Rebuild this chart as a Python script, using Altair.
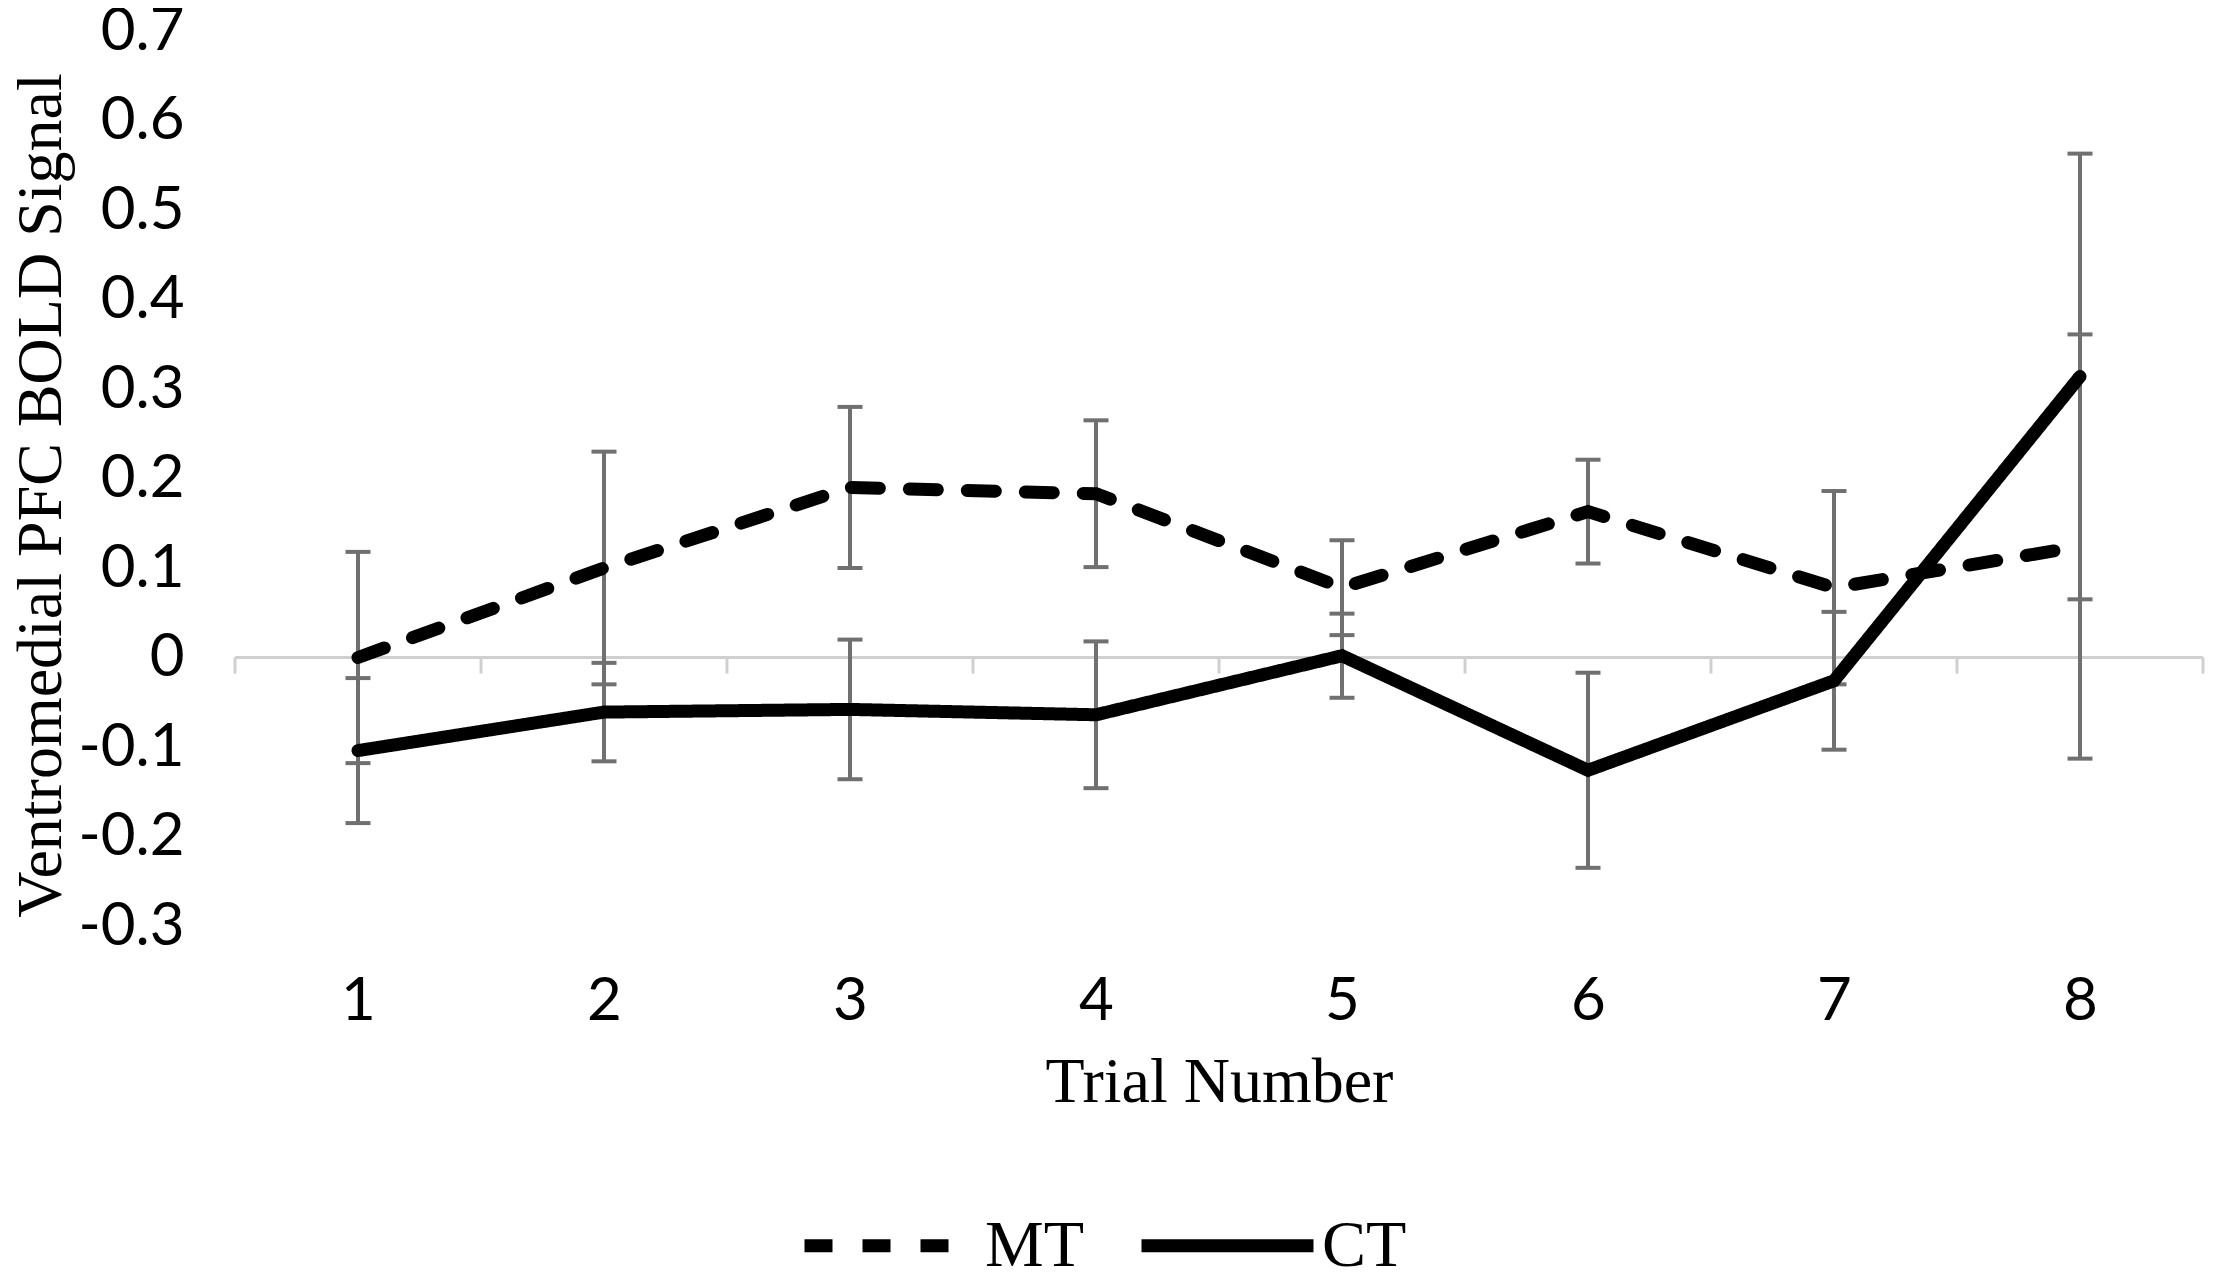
import altair as alt
import pandas as pd

# ---- data ----
trials = [1, 2, 3, 4, 5, 6, 7, 8]
series = ["MT", "CT"]
mt_mean = [0.0, 0.10, 0.19, 0.183, 0.078, 0.163, 0.078, 0.124]
mt_err = [0.118, 0.13, 0.09, 0.082, 0.053, 0.058, 0.108, 0.237]
ct_mean = [-0.104, -0.061, -0.058, -0.064, 0.002, -0.126, -0.026, 0.314]
ct_err = [0.081, 0.055, 0.078, 0.082, 0.047, 0.109, 0.077, 0.249]
y_ticks = [-0.3, -0.2, -0.1, 0.0, 0.1, 0.2, 0.3, 0.4, 0.5, 0.6, 0.7]

rows = []
for name, means, errs in [("MT", mt_mean, mt_err), ("CT", ct_mean, ct_err)]:
    for t, m, e in zip(trials, means, errs):
        rows.append({"trial": t, "series": name, "mean": m, "lo": m - e, "hi": m + e})
df = pd.DataFrame(rows)

boundaries = [t - 0.5 for t in trials] + [trials[-1] + 0.5]
bdf = pd.DataFrame({"b": boundaries, "y0": [0.0] * len(boundaries), "y1": [-0.018] * len(boundaries)})
zdf = pd.DataFrame({"x0": [boundaries[0]], "x1": [boundaries[-1]], "y": [0.0]})

x_scale = alt.Scale(domain=[boundaries[0], boundaries[-1]], nice=False, zero=False)
y_scale = alt.Scale(domain=[y_ticks[0], y_ticks[-1]], nice=False, zero=False)

x_axis = alt.Axis(
    values=trials, format="d", title="Trial Number", domain=False, ticks=False, grid=False,
    labelFont="Lato", labelFontSize=60, labelColor="black",
    labelBaseline="alphabetic", labelPadding=93,
    titleFont="Liberation Serif", titleFontSize=64, titleFontWeight="normal",
    titleColor="black", titleBaseline="alphabetic", titleY=175,
)
y_axis = alt.Axis(
    values=y_ticks, title="Ventromedial PFC BOLD Signal", domain=False, ticks=False, grid=False,
    labelFont="Lato", labelFontSize=60, labelColor="black", labelPadding=51,
    labelExpr="datum.value == 0 ? '0' : (datum.value < 0 ? '-' : '') + format(abs(datum.value), '.1f')",
    titleFont="Liberation Serif", titleFontSize=64, titleFontWeight="normal",
    titleColor="black", titleBaseline="alphabetic", titleAngle=270,
    titleX=-175, titleY=464, titleAlign="center",
)

zero_line = alt.Chart(zdf).mark_rule(color="#d0d0d0", strokeWidth=3).encode(
    x=alt.X("x0:Q", scale=x_scale, axis=x_axis),
    x2="x1:Q",
    y=alt.Y("y:Q", scale=y_scale, axis=y_axis),
)
cat_ticks = alt.Chart(bdf).mark_rule(color="#d0d0d0", strokeWidth=3).encode(
    x=alt.X("b:Q", scale=x_scale),
    y=alt.Y("y0:Q", scale=y_scale),
    y2="y1:Q",
)

err_color = "#707070"
err_rule = alt.Chart(df).mark_rule(color=err_color, strokeWidth=4).encode(
    x=alt.X("trial:Q", scale=x_scale),
    y=alt.Y("lo:Q", scale=y_scale),
    y2="hi:Q",
)
cap_lo = alt.Chart(df).mark_tick(color=err_color, orient="horizontal", size=25, thickness=4, opacity=1).encode(
    x=alt.X("trial:Q", scale=x_scale),
    y=alt.Y("lo:Q", scale=y_scale),
)
cap_hi = alt.Chart(df).mark_tick(color=err_color, orient="horizontal", size=25, thickness=4, opacity=1).encode(
    x=alt.X("trial:Q", scale=x_scale),
    y=alt.Y("hi:Q", scale=y_scale),
)

lines = alt.Chart(df).mark_line(color="black", strokeWidth=13, strokeCap="round").encode(
    x=alt.X("trial:Q", scale=x_scale),
    y=alt.Y("mean:Q", scale=y_scale),
    strokeDash=alt.StrokeDash(
        "series:N",
        scale=alt.Scale(domain=series, range=[[28, 30], [1, 0]]),
        legend=alt.Legend(
            orient="none", legendX=563, legendY=1122, direction="horizontal", title=None,
            symbolType="stroke", symbolSize=29584, symbolStrokeWidth=13,
            symbolStrokeColor="black",
            labelFont="Liberation Serif", labelFontSize=66, labelColor="black",
            labelOffset=2, columnPadding=31,
        ),
    ),
)

chart = alt.layer(zero_line, cat_ticks, err_rule, cap_lo, cap_hi, lines).properties(
    width=1968, height=895,
    autosize=alt.AutoSizeParams(type="none"),
    padding={"left": 227, "top": 23, "right": 6, "bottom": 350},
    background="white",
).configure_view(stroke=None)

chart.save("out.html", embed_options={"renderer": "svg", "actions": False})
